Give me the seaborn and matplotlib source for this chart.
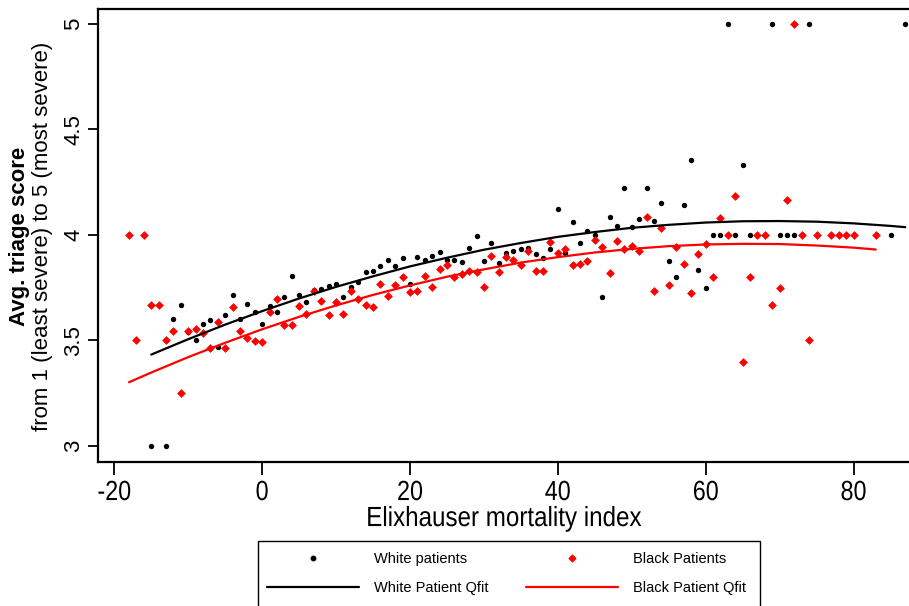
import numpy as np
import pandas as pd
import matplotlib
matplotlib.use("Agg")
import matplotlib.pyplot as plt
import seaborn as sns
from matplotlib.lines import Line2D
from matplotlib.patches import Rectangle
from matplotlib import patheffects
from matplotlib.transforms import Affine2D

# Mean triage score by Elixhauser mortality index, white patients
white_x = [-15, -13, -12, -11, -10, -9, -8, -7, -6, -5, -4, -3, -2, -1, 0, 1, 2, 3, 4, 5,
           6, 7, 8, 9, 10, 11, 12, 13, 14, 15, 16, 17, 18, 19, 20, 21, 22, 23, 24, 25,
           26, 27, 28, 29, 30, 31, 32, 33, 34, 35, 36, 37, 38, 39, 40, 41, 42, 43, 44, 45,
           46, 47, 48, 49, 50, 51, 52, 53, 54, 55, 56, 57, 58, 59, 60, 61, 62, 63, 64, 65,
           66, 69, 70, 71, 72, 74, 85, 87]
white_y = [3.0, 3.0, 3.60, 3.667, 3.54, 3.50, 3.578, 3.596, 3.468, 3.62, 3.717, 3.60, 3.672,
           3.636, 3.577, 3.662, 3.634, 3.706, 3.804, 3.717,
           3.682, 3.741, 3.745, 3.76, 3.768, 3.705, 3.752, 3.776, 3.823, 3.831, 3.852, 3.883,
           3.855, 3.891, 3.768, 3.894, 3.883, 3.899, 3.919, 3.88,
           3.882, 3.873, 3.94, 3.995, 3.877, 3.962, 3.867, 3.913, 3.923, 3.934, 3.94, 3.91,
           3.891, 3.932, 4.125, 3.913, 4.063, 3.964, 4.019, 4.0,
           3.705, 4.085, 4.041, 4.221, 4.038, 4.076, 4.221, 4.066, 4.150, 3.875, 3.80, 4.142,
           4.355, 3.833, 3.75, 4.0, 4.0, 5.0, 4.0, 4.333,
           4.0, 5.0, 4.0, 4.0, 4.0, 5.0, 4.0, 5.0]

# Mean triage score by Elixhauser mortality index, black patients
black_x = [-18, -17, -16, -15, -14, -13, -12, -11, -10, -9, -8, -7, -6, -5, -4, -3, -2, -1,
           0, 1, 2, 3, 4, 5, 6, 7, 8, 9, 10, 11, 12, 13, 14, 15, 16, 17, 18, 19, 20, 21,
           22, 23, 24, 25, 26, 27, 28, 29, 30, 31, 32, 33, 34, 35, 36, 37, 38, 39, 40, 41,
           42, 43, 44, 45, 46, 47, 48, 49, 50, 51, 52, 53, 54, 55, 56, 57, 58, 59, 60, 61,
           62, 63, 64, 65, 66, 67, 68, 69, 70, 71, 72, 73, 74, 75, 77, 78, 79, 80, 83]
black_y = [4.0, 3.5, 4.0, 3.667, 3.667, 3.5, 3.544, 3.25, 3.544, 3.553, 3.534, 3.464, 3.588,
           3.464, 3.66, 3.545, 3.51, 3.498,
           3.493, 3.636, 3.695, 3.572, 3.572, 3.662, 3.626, 3.733, 3.689, 3.62, 3.681, 3.626,
           3.736, 3.697, 3.668, 3.66, 3.768, 3.709, 3.762, 3.80, 3.728, 3.733,
           3.804, 3.752, 3.837, 3.856, 3.80, 3.814, 3.831, 3.825, 3.752, 3.902, 3.823, 3.894,
           3.883, 3.856, 3.924, 3.831, 3.828, 3.968, 3.913, 3.932,
           3.859, 3.863, 3.875, 3.978, 3.942, 3.822, 3.972, 3.935, 3.948, 3.924, 4.085, 3.733,
           4.032, 3.765, 3.942, 3.861, 3.724, 3.911, 3.956, 3.80,
           4.082, 4.0, 4.186, 3.40, 3.80, 4.0, 4.0, 3.667, 3.75, 4.166, 5.0, 4.0, 3.5, 4.0,
           4.0, 4.0, 4.0, 4.0, 4.0]

# Quadratic-fit (patient-level) curves, tabulated along the index
white_fit_x = [-15, -10, -5, 0, 5, 10, 15, 20, 25, 30, 35, 40, 45, 50, 55, 60, 65, 70,
               75, 80, 85, 87]
white_fit_y = [3.433, 3.506, 3.575, 3.639, 3.699, 3.754, 3.804, 3.851, 3.892, 3.930, 3.962,
               3.991, 4.014, 4.034, 4.048, 4.059, 4.065, 4.066, 4.063, 4.055, 4.043, 4.037]
black_fit_x = [-18, -15, -10, -5, 0, 5, 10, 15, 20, 25, 30, 35, 40, 45, 50, 55, 60, 65,
               70, 75, 80, 83]
black_fit_y = [3.302, 3.348, 3.421, 3.489, 3.553, 3.612, 3.666, 3.716, 3.761, 3.802, 3.837,
               3.869, 3.895, 3.917, 3.934, 3.947, 3.955, 3.958, 3.957, 3.950, 3.940, 3.931]

x_ticks = [-20, 0, 20, 40, 60, 80]
y_ticks = [3, 3.5, 4, 4.5, 5]
y_tick_labels = ["3", "3.5", "4", "4.5", "5"]

white_df = pd.DataFrame({"elix": white_x, "triage": white_y})
black_df = pd.DataFrame({"elix": black_x, "triage": black_y})
white_fit = pd.DataFrame({"elix": white_fit_x, "triage": white_fit_y})
black_fit = pd.DataFrame({"elix": black_fit_x, "triage": black_fit_y})


class Squeeze(patheffects.AbstractPathEffect):
    """Draw text horizontally condensed about its own centre."""

    def __init__(self, sx):
        super().__init__()
        self.sx = sx

    def draw_path(self, renderer, gc, tpath, affine, rgbFace=None):
        ext = tpath.get_extents(affine)
        cx = 0.5 * (ext.x0 + ext.x1)
        aff = affine + Affine2D().translate(-cx, 0).scale(self.sx, 1).translate(cx, 0)
        renderer.draw_path(gc, tpath, aff, rgbFace)


sns.set_theme(style="white")
plt.rcParams["font.family"] = ["Liberation Sans", "DejaVu Sans"]
for key in ["text.color", "axes.labelcolor", "xtick.color", "ytick.color"]:
    plt.rcParams[key] = "black"

W, H = 909, 606
fig = plt.figure(figsize=(W / 100, H / 100), dpi=100)
fig.patch.set_facecolor("white")

ax_left, ax_top, ax_bottom = 98, 9, 462
ax = fig.add_axes([ax_left / W, 1 - ax_bottom / H, (W - ax_left) / W, (ax_bottom - ax_top) / H])

sns.scatterplot(data=white_df, x="elix", y="triage", ax=ax, color="black", marker="o",
                s=15, linewidth=0, clip_on=False, zorder=3)
sns.scatterplot(data=black_df, x="elix", y="triage", ax=ax, color="red", marker="D",
                s=20, linewidth=0, clip_on=False, zorder=3)

sns.lineplot(data=white_fit, x="elix", y="triage", ax=ax, color="black", lw=1.6, zorder=4)
sns.lineplot(data=black_fit, x="elix", y="triage", ax=ax, color="red", lw=1.6, zorder=4)

ax.set_xlim(-22.2, 87.5)
ax.set_ylim(2.924, 5.071)
ax.set_xticks(x_ticks)
ax.set_xticklabels([str(t) for t in x_ticks], fontsize=20)
for lbl in ax.get_xticklabels():
    lbl.set_path_effects([Squeeze(0.84)])
ax.set_yticks(y_ticks)
ax.set_yticklabels(y_tick_labels, fontsize=16, rotation=90, va="center")

ax.tick_params(axis="x", direction="out", length=9, width=1.3, color="black", pad=4,
               bottom=True)
ax.tick_params(axis="y", direction="out", length=7, width=1.3, color="black", pad=3,
               left=True)

for side in ["left", "bottom", "top"]:
    ax.spines[side].set_visible(True)
    ax.spines[side].set_color("black")
    ax.spines[side].set_linewidth(1.6)
ax.spines["right"].set_visible(False)

xl = ax.set_xlabel("Elixhauser mortality index", fontsize=20, labelpad=0)
xl.set_path_effects([Squeeze(0.87)])
ax.set_ylabel("")

ycen = 1 - 236 / H
fig.text(20 / W, ycen, "Avg. triage score", rotation=90, ha="center", va="center",
         fontsize=16, fontweight="bold")
fig.text(43 / W, ycen, "from 1 (least severe) to 5 (most severe)", rotation=90,
         ha="center", va="center", fontsize=16)

handles = [
    Line2D([], [], linestyle="none", marker="o", markersize=3.2, color="black"),
    Line2D([], [], color="black", lw=1.6),
    Line2D([], [], linestyle="none", marker="D", markersize=3.4, color="red"),
    Line2D([], [], color="red", lw=1.6),
]
labels = ["White patients", "White Patient Qfit", "Black Patients", "Black Patient Qfit"]
leg = fig.legend(handles, labels, loc="upper left", bbox_to_anchor=(258 / W, 1 - 543 / H),
                 ncol=2, frameon=False, fontsize=10.5, handlelength=6.3,
                 handletextpad=1.0, columnspacing=2.6, labelspacing=1.0, borderpad=0.65,
                 borderaxespad=0)

# legend box, running off the bottom of the canvas
fig.add_artist(Rectangle((258 / W, -0.05), (760 - 258) / W, (606 - 541) / H + 0.05,
                         transform=fig.transFigure, fill=False, edgecolor="black",
                         linewidth=1.0, zorder=5))

fig.savefig("out.png", dpi=100, facecolor="white")
